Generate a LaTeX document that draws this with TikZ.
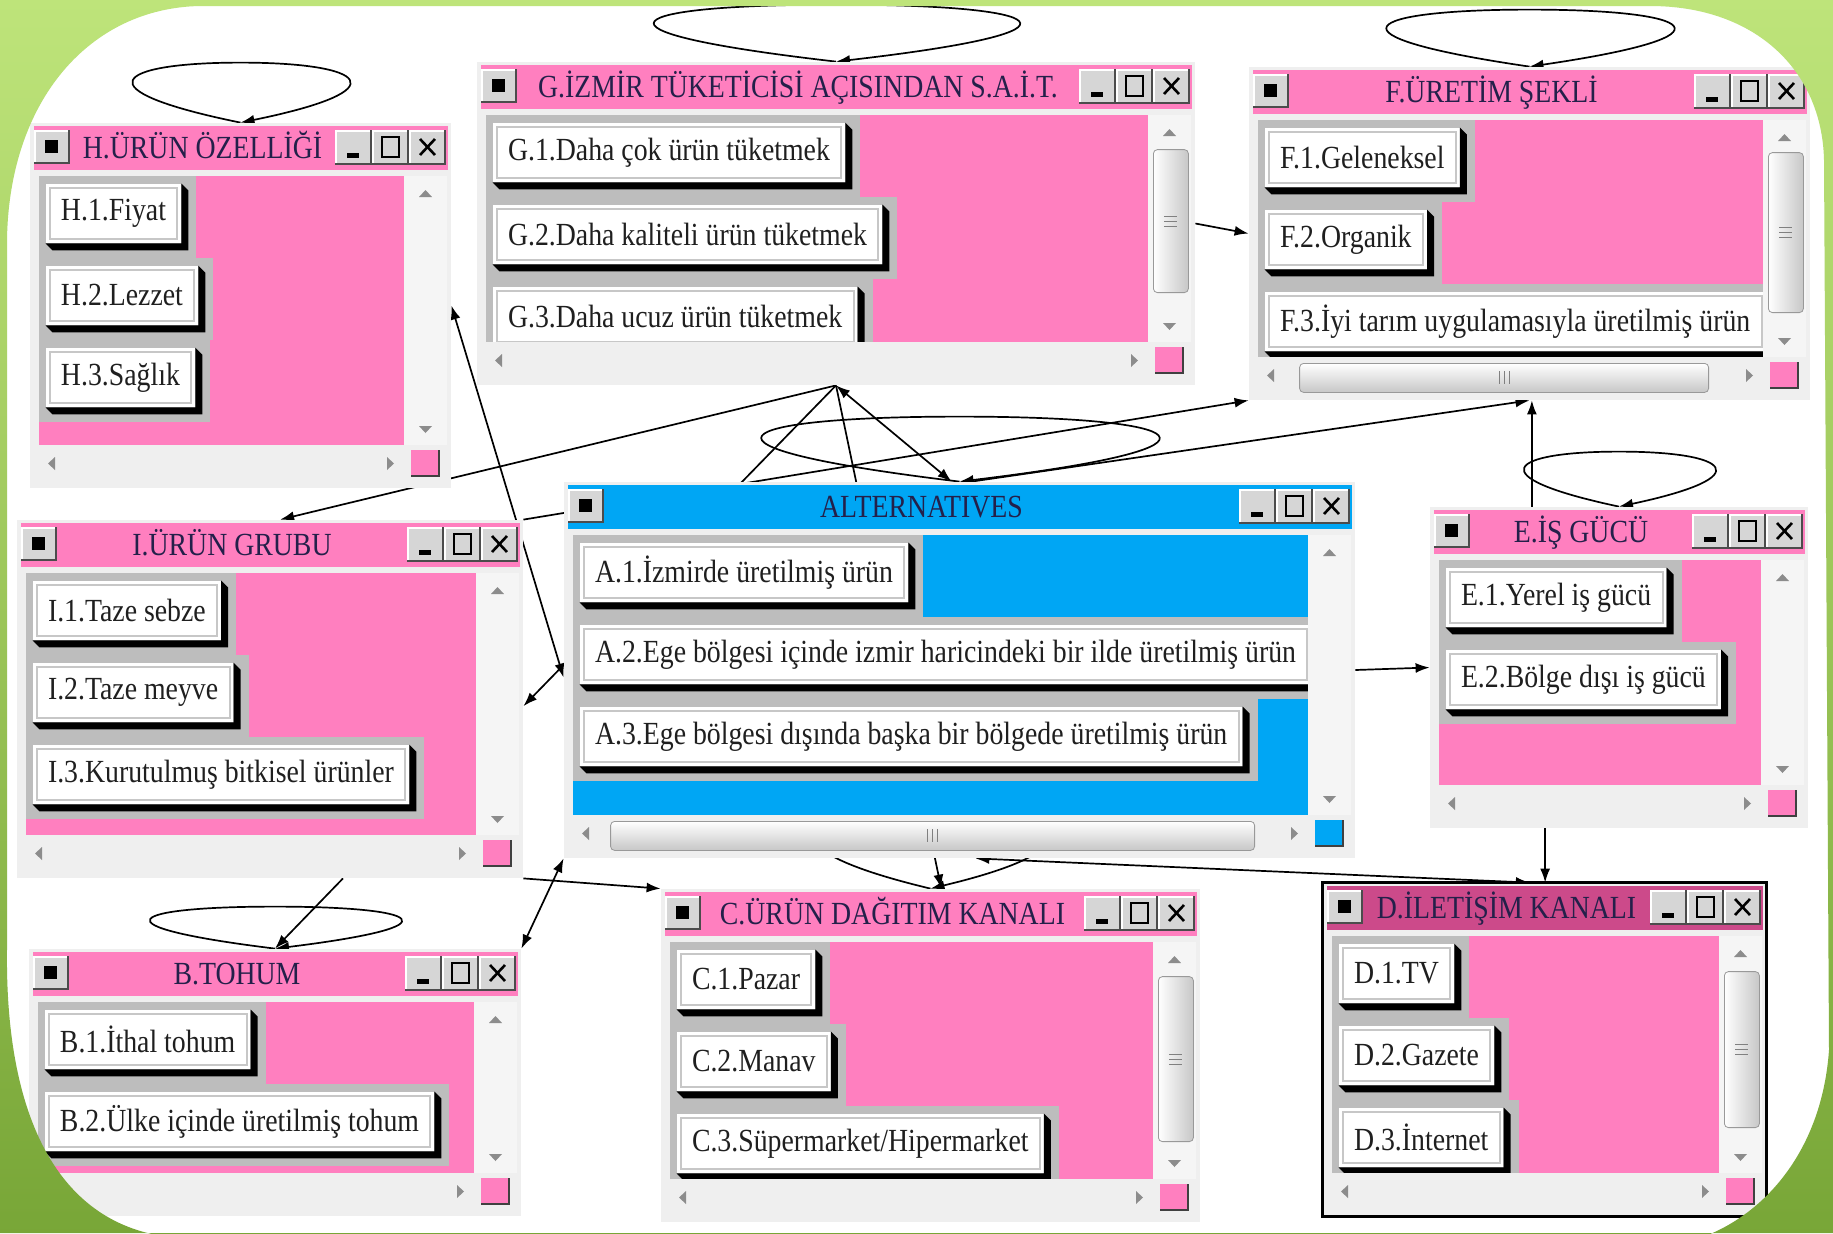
\documentclass[tikz,border=0pt]{standalone}
\usepackage{fontspec}
\usepackage{graphicx}
\setmainfont{Liberation Serif}
\usetikzlibrary{arrows.meta, calc, fit}
\definecolor{sdPink}{HTML}{FF7FBF}
\definecolor{sdPinkDark}{HTML}{CC4A8A}
\definecolor{sdBlue}{HTML}{00A6F4}
\definecolor{sdFrame}{HTML}{EFEFEF}
\definecolor{sdRow}{HTML}{BDBDBD}
\definecolor{sdFace}{HTML}{D6D6D6}
\definecolor{sdTitle}{HTML}{24204A}
\definecolor{slideLight}{HTML}{BEE47A}
\definecolor{slideDark}{HTML}{78A637}
\pgfdeclarelayer{paper}
\pgfdeclarelayer{conn}
\pgfdeclarelayer{winbody}
\pgfdeclarelayer{rowbg}
\pgfdeclarelayer{chrome}
\pgfdeclarelayer{front}
\pgfsetlayers{paper,conn,winbody,rowbg,main,chrome,front}
\tikzset{
  link/.style       = {-{Latex[length=7pt,width=5pt]}, line width=0.85pt, black},
  link2/.style      = {{Latex[length=7pt,width=5pt]}-{Latex[length=7pt,width=5pt]}, line width=0.85pt, black},
  optface/.style    = {fill=white, inner xsep=7.5pt, inner ysep=0pt, minimum height=29.5pt,
                       font=\fontsize{13.9}{16}\selectfont, text=black!88},
  wintitle/.style   = {font=\fontsize{13.9}{16}\selectfont, text=sdTitle, anchor=base, inner sep=0pt},
  scrollarrow/.style= {fill=black!45},
}
% taller text, as in the screenshot
\newcommand{\tall}[1]{\scalebox{1}[1.16]{#1}}
% small 3d button of the window chrome
\newcommand{\wbtn}[4]{%
  \fill[sdFace] (#1,#2) rectangle (#3,#4);
  \draw[white, line width=0.8pt] (#1+1,#4-1) -- (#1+1,#2+1) -- (#3-1,#2+1);
  \draw[black!70, line width=1.2pt] (#1,#4-1) -- (#3-1,#4-1) -- (#3-1,#2);
}
% cluster window: name, x1, y1, x2, y2, bar colour, body colour, title
\newcommand{\clusterwin}[8]{%
  \node[inner sep=0pt, fit={(#2,#3) (#4,#5)}] (win#1) {};
  \begin{pgfonlayer}{winbody}
    \fill[sdFrame] (#2,#3) rectangle (#4,#5);
    \fill[#7] (#2+9,#3+53) rectangle (#4-47,#5-43);
  \end{pgfonlayer}
  \begin{pgfonlayer}{chrome}
    \fill[sdFrame] (#2+9,#5-43) rectangle (#4-4,#5-4);
    \fill[sdFrame!60!white] (#4-47,#3+53) rectangle (#4-4,#5-43);
    \fill[#6] (#2+4,#3+3) rectangle (#4-3,#3+47);
    \wbtn{#2+4}{#3+7}{#2+40}{#3+41}
    \fill[black] (#2+15,#3+17) rectangle (#2+28,#3+30);
    \wbtn{#4-116}{#3+7}{#4-79}{#3+42}
    \wbtn{#4-79}{#3+7}{#4-42}{#3+42}
    \wbtn{#4-42}{#3+7}{#4-5}{#3+42}
    \fill[black] (#4-104,#3+30) rectangle (#4-92,#3+35);
    \draw[black, line width=1pt] (#4-69,#3+14) rectangle (#4-52,#3+34);
    \draw[black, line width=1.3pt] (#4-31,#3+16) -- (#4-16,#3+32) (#4-31,#3+32) -- (#4-16,#3+16);
    \node[wintitle] at ({(#2+#4-76)/2},#3+35) {\tall{#8}};
    \fill[scrollarrow] (#4-32,#3+74) -- (#4-19,#3+74) -- (#4-25.5,#3+67) -- cycle;
    \fill[scrollarrow] (#4-32,#5-62) -- (#4-19,#5-62) -- (#4-25.5,#5-55) -- cycle;
    \fill[scrollarrow] (#2+25,#5-31) -- (#2+25,#5-18) -- (#2+18,#5-24.5) -- cycle;
    \fill[scrollarrow] (#4-64,#5-31) -- (#4-64,#5-18) -- (#4-57,#5-24.5) -- cycle;
    \fill[#7] (#4-40,#5-38) rectangle (#4-12,#5-12);
    \draw[black!75, line width=1.2pt] (#4-40,#5-12) -- (#4-12,#5-12) -- (#4-12,#5-38);
  \end{pgfonlayer}
}
% element button in row #2 of window #1
\newcommand{\optbtn}[3]{%
  \node[optface, anchor=north west] (btn#1#2) at ($(win#1.north west)+(16,{61+(#2-1)*82})$) {\tall{#3}};
  \fill[black] (btn#1#2.north east) -- ($(btn#1#2.north east)+(7,7)$) -- ($(btn#1#2.south east)+(7,7)$)
    -- ($(btn#1#2.south west)+(7,7)$) -- (btn#1#2.south west) -- (btn#1#2.south east) -- cycle;
  \draw[black!22, line width=1pt] ($(btn#1#2.north west)+(4,4)$) rectangle ($(btn#1#2.south east)+(-4,-4)$);
  \begin{pgfonlayer}{rowbg}
    \coordinate (rowtop) at ($(win#1.north west)+(9,{53+(#2-1)*82})$);
    \coordinate (rowbot) at ($(win#1.north west)+(0,{53+#2*82})$);
    \coordinate (rowend) at ($(btn#1#2.east)+(15,0)$);
    \fill[sdRow] (rowtop) rectangle (rowend |- rowbot);
  \end{pgfonlayer}
}
% scrollbar thumbs
\newcommand{\vthumb}[3]{%
  \begin{pgfonlayer}{chrome}
    \shade[left color=white, right color=black!22, draw=black!40, rounded corners=2pt]
      ($(win#1.north east)+(-42,#2)$) rectangle ($(win#1.north east)+(-7,#3)$);
    \draw[black!50, line width=0.6pt] ($(win#1.north east)+(-31,{(#2+#3)/2-5})$) -- ++(13,0) ++(-13,5) -- ++(13,0) ++(-13,5) -- ++(13,0);
  \end{pgfonlayer}
}
\newcommand{\hthumb}[3]{%
  \begin{pgfonlayer}{chrome}
    \shade[top color=white, bottom color=black!22, draw=black!40, rounded corners=2pt]
      ($(win#1.south west)+(#2,-37)$) rectangle ($(win#1.south west)+(#3,-8)$);
    \draw[black!50, line width=0.6pt] ($(win#1.south west)+({(#2+#3)/2-5},-29)$) -- ++(0,13) ++(5,-13) -- ++(0,13) ++(5,-13) -- ++(0,13);
  \end{pgfonlayer}
}
% inner dependence loop above a window
\newcommand{\selfloop}[3]{%
  \draw[link] (#1.north) .. controls ($(#1.north)+(-1.5*#2,-0.55*#3)$) and ($(#1.north)+(-1.16*#2,-#3)$) .. ($(#1.north)+(0,-#3)$)
    .. controls ($(#1.north)+(1.16*#2,-#3)$) and ($(#1.north)+(1.5*#2,-0.55*#3)$) .. (#1.north);
}

\begin{document}
\begin{tikzpicture}[x=0.5pt, y=-0.5pt]
  \useasboundingbox (0,0) rectangle (1833,1233);
  \begin{pgfonlayer}{paper}
    \fill[white] (0,0) rectangle (1833,1233);
  \end{pgfonlayer}

  % clusters
  \clusterwin{H}{30}{123}{451}{488}{sdPink}{sdPink}{H.ÜRÜN ÖZELLİĞİ}
  \optbtn{H}{1}{H.1.Fiyat}
  \optbtn{H}{2}{H.2.Lezzet}
  \optbtn{H}{3}{H.3.Sağlık}

  \clusterwin{G}{477}{62}{1195}{385}{sdPink}{sdPink}{G.İZMİR TÜKETİCİSİ AÇISINDAN S.A.İ.T.}
  \optbtn{G}{1}{G.1.Daha çok ürün tüketmek}
  \optbtn{G}{2}{G.2.Daha kaliteli ürün tüketmek}
  \optbtn{G}{3}{G.3.Daha ucuz ürün tüketmek}
  \vthumb{G}{88}{231}

  \clusterwin{F}{1249}{67}{1810}{400}{sdPink}{sdPink}{F.ÜRETİM ŞEKLİ}
  \optbtn{F}{1}{F.1.Geleneksel}
  \optbtn{F}{2}{F.2.Organik}
  \optbtn{F}{3}{F.3.İyi tarım uygulamasıyla üretilmiş ürün}
  \vthumb{F}{86}{246}
  \hthumb{F}{51}{460}

  \clusterwin{I}{17}{520}{523}{878}{sdPink}{sdPink}{I.ÜRÜN GRUBU}
  \optbtn{I}{1}{I.1.Taze sebze}
  \optbtn{I}{2}{I.2.Taze meyve}
  \optbtn{I}{3}{I.3.Kurutulmuş bitkisel ürünler}

  \clusterwin{A}{564}{482}{1355}{858}{sdBlue}{sdBlue}{ALTERNATIVES}
  \optbtn{A}{1}{A.1.İzmirde üretilmiş ürün}
  \optbtn{A}{2}{A.2.Ege bölgesi içinde izmir haricindeki bir ilde üretilmiş ürün}
  \optbtn{A}{3}{A.3.Ege bölgesi dışında başka bir bölgede üretilmiş ürün}
  \hthumb{A}{47}{691}

  \clusterwin{E}{1430}{507}{1808}{828}{sdPink}{sdPink}{E.İŞ GÜCÜ}
  \optbtn{E}{1}{E.1.Yerel iş gücü}
  \optbtn{E}{2}{E.2.Bölge dışı iş gücü}

  \clusterwin{B}{29}{949}{521}{1216}{sdPink}{sdPink}{B.TOHUM}
  \optbtn{B}{1}{B.1.İthal tohum}
  \optbtn{B}{2}{B.2.Ülke içinde üretilmiş tohum}

  \clusterwin{C}{661}{889}{1200}{1222}{sdPink}{sdPink}{C.ÜRÜN DAĞITIM KANALI}
  \optbtn{C}{1}{C.1.Pazar}
  \optbtn{C}{2}{C.2.Manav}
  \optbtn{C}{3}{C.3.Süpermarket/Hipermarket}
  \vthumb{C}{88}{253}

  \clusterwin{D}{1323}{883}{1766}{1216}{sdPinkDark}{sdPink}{D.İLETİŞİM KANALI}
  \optbtn{D}{1}{D.1.TV}
  \optbtn{D}{2}{D.2.Gazete}
  \optbtn{D}{3}{D.3.İnternet}
  \vthumb{D}{89}{245}
  \begin{pgfonlayer}{chrome}
    \draw[black, line width=1.6pt] (winD.north west) rectangle (winD.south east);
  \end{pgfonlayer}

  % connections
  \begin{pgfonlayer}{conn}
    \selfloop{winH}{108}{60}
    \selfloop{winG}{182}{57}
    \selfloop{winF}{143}{57}
    \selfloop{winE}{95}{55}
    \selfloop{winB}{125}{42}
    \selfloop{winC}{115}{75}
    \selfloop{winA}{198}{65}
    \coordinate (eT) at ($(winE.north west)!.27!(winE.north east)$);
    \coordinate (eB) at ($(winE.south west)!.305!(winE.south east)$);
    \draw[link] (winG.south) -- ($(winI.north west)!.52!(winI.north east)$);
    \draw[link] (winG.south) -- ($(winI.north east)!.52!(winI.south east)$);
    \draw[link] (winG.south) -- ($(winC.north west)!.52!(winC.north east)$);
    \draw[link2] (winG.south) -- ($(winA.north west)!.49!(winA.north east)$);
    \draw[link] (winG.east) -- (winF.west);
    \draw[link] (winI.north east) -- (winF.south west);
    \draw[link] ($(winA.north west)!.515!(winA.north east)$) -- (winF.south);
    \draw[link2] (winH.east) -- ($(winA.north west)!.52!(winA.south west)$);
    \draw[link2] (winB.north east) -- (winA.south west);
    \draw[link] ($(winI.south west)!.644!(winI.south east)$) -- (winB.north);
    \draw[link] (winI.south east) -- (winC.north west);
    \draw[link] (winA.east) -- (winE.west);
    \draw[link] (eT) -- (eT |- winF.south);
    \draw[link] (eB) -- (eB |- winD.north);
    \draw[link2] ($(winA.south west)!.52!(winA.south east)$) -- ($(winD.north west)!.467!(winD.north east)$);
  \end{pgfonlayer}

  % slide background
  \begin{pgfonlayer}{front}
    \shade[top color=slideLight, bottom color=slideDark, even odd rule]
      (0,0) rectangle (1833,1233)
      (200,6) -- (1650,6) .. controls (1755,6) and (1822,70) .. (1824,160)
      -- (1829,1050) .. controls (1822,1150) and (1765,1215) .. (1700,1238)
      -- (180,1238) .. controls (60,1230) and (5,1120) .. (7,950)
      -- (7,240) .. controls (9,100) and (90,8) .. (200,6) -- cycle;
  \end{pgfonlayer}
\end{tikzpicture}
\end{document}
